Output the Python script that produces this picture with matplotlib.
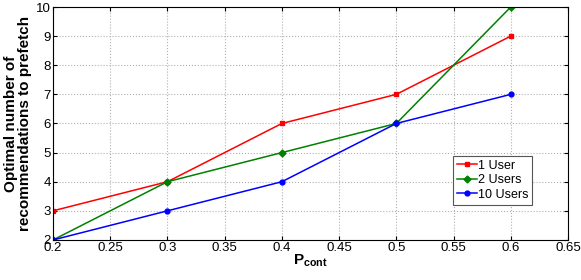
import matplotlib
matplotlib.use('Agg')
import matplotlib.pyplot as plt

plt.rcParams['font.family'] = ['Liberation Sans', 'DejaVu Sans']
plt.rcParams['mathtext.fontset'] = 'custom'
plt.rcParams['mathtext.bf'] = 'Liberation Sans:bold'
plt.rcParams['mathtext.rm'] = 'Liberation Sans'

p_cont = [0.2, 0.3, 0.4, 0.5, 0.6]
one_user = [3, 4, 6, 7, 9]
two_users = [2, 4, 5, 6, 10]
ten_users = [2, 3, 4, 6, 7]

fig = plt.figure(figsize=(5.81, 2.80), dpi=100)
ax = fig.add_axes([0.0912, 0.143, 0.8864, 0.832])

ax.plot(p_cont, one_user, color='#ff0000', marker='s', markersize=3.5, lw=1.1, label='1 User')
ax.plot(p_cont, two_users, color='#008000', marker='D', markersize=3.5, lw=1.1, label='2 Users')
ax.plot(p_cont, ten_users, color='#0000ff', marker='o', markersize=3.5, lw=1.1, label='10 Users')

ax.set_xlim(0.2, 0.65)
ax.set_ylim(2, 10)
ax.set_xticks([0.2, 0.25, 0.3, 0.35, 0.4, 0.45, 0.5, 0.55, 0.6, 0.65])
ax.set_xticklabels(['0.2', '0.25', '0.3', '0.35', '0.4', '0.45', '0.5', '0.55', '0.6', '0.65'])
ax.set_yticks(range(2, 11))
ax.tick_params(direction='in', top=True, right=True, labelsize=9.5, length=3, pad=1.5)
ax.grid(True, linestyle=':', color='#b0b0b0', lw=0.8)

ax.set_xlabel(r'$\mathbf{P_{cont}}$', fontsize=11, labelpad=-1)
ax.set_ylabel('Optimal number of\nrecommendations to prefetch', fontsize=11, fontweight='bold',
              labelpad=3, linespacing=1.0)

leg = ax.legend(loc='upper left', bbox_to_anchor=(0.777, 0.36), fontsize=9, fancybox=False,
                edgecolor='#555555', framealpha=1, handlelength=1.6, handletextpad=0.1,
                borderpad=0.3, labelspacing=0.2, borderaxespad=0)
leg.get_frame().set_linewidth(0.8)

fig.savefig('out.png', dpi=100)
